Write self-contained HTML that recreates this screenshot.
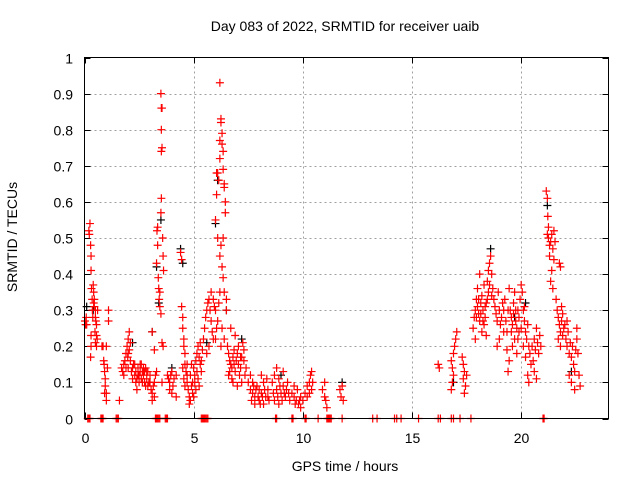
<!DOCTYPE html>
<html><head><meta charset="utf-8"><style>
html,body{margin:0;padding:0;background:#fff;}
svg{display:block;font-family:"Liberation Sans",sans-serif;}
</style></head><body>
<svg id="chart" width="640" height="480" viewBox="0 0 640 480">
<text x="345" y="31" font-size="14" text-anchor="middle">Day 083 of 2022, SRMTID for receiver uaib</text>
<text x="17" y="237" font-size="14" text-anchor="middle" transform="rotate(-90 17 237)">SRMTID / TECUs</text>
<text x="345" y="471" font-size="14" text-anchor="middle">GPS time / hours</text>
<g id="grid"></g>
<g id="ticks"></g>
<g id="black"></g>
<g id="red"></g>
<rect x="84.5" y="57.5" width="524" height="361" fill="none" stroke="#000" stroke-width="1"/>
</svg>
<script>
const xTicks=[0,5,10,15,20];
const yTicks=[0,0.1,0.2,0.3,0.4,0.5,0.6,0.7,0.8,0.9,1];
const yTickLabels=["0","0.1","0.2","0.3","0.4","0.5","0.6","0.7","0.8","0.9","1"];
const xTickLabels=["0","5","10","15","20"];
const redPoints=[
[0.02,0.27],[0.05,0.26],[0.08,0.28],[0.1,0.26],
[0.2,0.52],[0.22,0.51],[0.25,0.54],[0.28,0.48],[0.3,0.45],[0.3,0.41],[0.32,0.36],[0.35,0.33],[0.36,0.3],[0.38,0.28],[0.3,0.23],[0.3,0.2],[0.28,0.17],
[0.4,0.37],[0.42,0.35],[0.45,0.33],[0.45,0.31],[0.5,0.3],[0.5,0.28],[0.52,0.27],[0.55,0.26],[0.48,0.24],[0.55,0.23],[0.58,0.22],[0.6,0.3],[0.42,0.32],[0.5,0.21],[0.55,0.2],
[0.8,0.2],[0.85,0.2],[0.88,0.16],[0.9,0.15],[0.92,0.13],[0.95,0.11],[0.95,0.09],[1.0,0.07],[1.0,0.05],[0.92,0.07],[1.05,0.14],[1.1,0.3],[1.1,0.27],[1.0,0.2],
[1.6,0.05],[1.7,0.14],[1.75,0.13],[1.8,0.15],[1.8,0.12],[1.9,0.18],[1.95,0.2],[2.0,0.22],[2.05,0.24],[1.98,0.17],[2.0,0.14],[2.05,0.19],[2.1,0.21],
[2.1,0.16],[2.2,0.14],[2.25,0.15],[2.3,0.12],[2.35,0.13],[2.4,0.11],[2.45,0.14],[2.5,0.12],[2.55,0.15],[2.6,0.11],[2.65,0.13],[2.7,0.12],[2.75,0.1],[2.8,0.14],[2.85,0.11],[2.9,0.13],[2.95,0.1],[3.0,0.12],[3.05,0.08],[3.1,0.07],[3.1,0.05],[3.2,0.06],[3.2,0.1],[3.25,0.12],[3.3,0.13],[2.4,0.08],[2.6,0.15],[2.9,0.09],[3.1,0.24],[3.2,0.19],[2.2,0.11],[2.5,0.1],[2.8,0.09],
[2.15,0.13],[2.3,0.15],[2.45,0.12],[2.55,0.13],[2.7,0.14],[2.75,0.13],[2.85,0.13],[3.0,0.1],[3.15,0.09],[2.35,0.1],[2.65,0.1],[1.85,0.16],[1.9,0.14],[2.0,0.18],
[3.3,0.43],[3.32,0.52],[3.35,0.53],[3.35,0.48],[3.38,0.39],[3.4,0.36],[3.42,0.33],[3.45,0.35],[3.45,0.31],[3.5,0.29],[3.5,0.57],[3.52,0.61],[3.52,0.74],[3.55,0.75],[3.52,0.8],[3.55,0.86],[3.52,0.86],[3.5,0.9],[3.58,0.5],[3.6,0.45],[3.62,0.41],[3.55,0.21],[3.6,0.2],[3.55,0.1],
[3.8,0.12],[3.85,0.11],[3.9,0.1],[3.95,0.12],[4.0,0.13],[4.05,0.09],[3.9,0.08],[4.0,0.07],[4.1,0.11],[4.2,0.12],[4.2,0.06],
[4.4,0.46],[4.45,0.44],[4.45,0.31],[4.5,0.28],[4.5,0.25],[4.55,0.22],[4.55,0.2],[4.6,0.18],[4.6,0.15],[4.65,0.13],[4.7,0.12],[4.7,0.1],[4.75,0.08],[4.8,0.06],[4.8,0.04],[4.5,0.14],[4.55,0.11],[4.6,0.09],[4.85,0.12],[4.9,0.15],[4.95,0.1],[4.95,0.07],
[5.0,0.14],[5.05,0.12],[5.1,0.16],[5.15,0.18],[5.2,0.2],[5.25,0.17],[5.3,0.21],[5.3,0.15],[5.2,0.11],[5.1,0.08],[5.0,0.06],[5.35,0.13],[5.4,0.19],[5.45,0.22],
[4.9,0.09],[5.05,0.1],[5.15,0.13],[5.25,0.09],[5.35,0.16],[4.7,0.15],[4.85,0.05],
[5.5,0.25],[5.55,0.28],[5.6,0.3],[5.65,0.32],[5.7,0.33],[5.75,0.3],[5.8,0.27],[5.85,0.24],[5.9,0.22],[5.8,0.35],[5.9,0.33],[5.7,0.2],[5.6,0.18],[5.95,0.31],[6.0,0.3],
[6.0,0.55],[6.05,0.62],[6.05,0.68],[6.1,0.68],[6.15,0.66],[6.2,0.72],[6.2,0.77],[6.25,0.82],[6.25,0.83],[6.3,0.79],[6.3,0.76],[6.35,0.74],[6.35,0.69],[6.4,0.65],[6.4,0.64],[6.45,0.6],[6.45,0.57],[6.2,0.93],[6.1,0.5],[6.2,0.45],[6.25,0.48],[6.35,0.5],[6.3,0.42],[6.35,0.39],[6.4,0.35],[6.5,0.33],[6.5,0.3],[6.2,0.35],[6.15,0.32],[6.1,0.27],[6.05,0.25],[6.0,0.22],[6.3,0.25],[6.4,0.22],[6.25,0.2],
[6.55,0.2],[6.6,0.18],[6.65,0.16],[6.7,0.15],[6.75,0.14],[6.8,0.17],[6.85,0.19],[6.9,0.13],[6.95,0.16],[7.0,0.18],[7.05,0.15],[7.1,0.12],[7.15,0.14],[7.2,0.17],[7.25,0.21],[7.3,0.16],[7.35,0.12],[7.4,0.14],[6.6,0.12],[6.8,0.1],[7.0,0.09],[7.2,0.1],[6.7,0.25],[6.9,0.23],
[6.65,0.13],[6.85,0.15],[7.05,0.2],[7.15,0.17],[7.3,0.19],[6.75,0.11],
[7.5,0.1],[7.6,0.08],[7.7,0.07],[7.8,0.06],[7.9,0.09],[8.0,0.05],[8.1,0.07],[8.2,0.1],[8.3,0.06],[8.4,0.08],[7.6,0.12],[7.8,0.04],[8.0,0.08],[8.2,0.04],[8.35,0.11],[7.7,0.1],[8.1,0.12],[8.45,0.05],
[7.65,0.05],[7.85,0.08],[7.95,0.06],[8.05,0.04],[8.15,0.06],[8.25,0.08],[8.4,0.06],[7.75,0.09],
[8.6,0.1],[8.7,0.12],[8.8,0.08],[8.9,0.11],[9.0,0.07],[9.1,0.09],[9.2,0.06],[9.3,0.1],[9.4,0.05],[8.7,0.05],[8.9,0.04],[9.1,0.13],[9.25,0.08],[8.8,0.14],
[8.65,0.07],[8.85,0.06],[8.95,0.09],[9.05,0.05],[9.15,0.07],[9.35,0.07],
[9.5,0.07],[9.6,0.06],[9.7,0.05],[9.8,0.04],[9.9,0.03],[9.75,0.08],[9.6,0.09],[9.9,0.06],[10.0,0.05],[9.85,0.05],[9.65,0.04],
[10.1,0.07],[10.2,0.09],[10.3,0.1],[10.35,0.12],[10.4,0.13],[10.45,0.1],[10.3,0.07],[10.2,0.06],[10.4,0.08],
[10.9,0.08],[11.0,0.06],[11.05,0.05],[11.1,0.03],[11.0,0.1],[11.7,0.08],[11.75,0.06],[11.8,0.09],[11.85,0.05],
[16.2,0.15],[16.25,0.14],[16.8,0.16],[16.85,0.14],[16.9,0.18],[16.95,0.2],[17.0,0.22],[17.05,0.24],[16.9,0.12],[16.85,0.1],[16.8,0.08],
[17.3,0.17],[17.35,0.15],[17.4,0.13],[17.35,0.11],[17.45,0.09],[17.4,0.07],[17.5,0.12],
[17.8,0.25],[17.85,0.28],[17.9,0.3],[17.95,0.33],[18.0,0.36],[18.0,0.31],[18.05,0.29],[18.1,0.27],[18.15,0.32],[18.2,0.34],[18.25,0.3],[18.3,0.26],[18.35,0.28],[18.4,0.32],[18.45,0.38],[18.5,0.41],[18.55,0.43],[18.6,0.45],[18.65,0.4],[18.7,0.36],[18.5,0.35],[18.3,0.37],[18.1,0.4],[17.9,0.22],[18.2,0.24],[18.4,0.23],
[17.95,0.28],[18.05,0.33],[18.15,0.29],[18.25,0.27],[18.35,0.31],[18.45,0.33],[18.55,0.37],[18.65,0.34],
[18.75,0.33],[18.8,0.31],[18.85,0.29],[18.9,0.27],[18.95,0.35],[19.0,0.3],[19.05,0.26],[19.1,0.28],[19.15,0.32],[19.2,0.3],[19.25,0.33],[19.3,0.27],[19.35,0.24],[19.4,0.3],[19.45,0.36],[19.0,0.22],[19.2,0.24],[19.35,0.19],[19.4,0.13],[19.45,0.16],[18.9,0.2],
[19.5,0.3],[19.55,0.28],[19.6,0.26],[19.65,0.32],[19.7,0.35],[19.75,0.3],[19.8,0.25],[19.85,0.22],[19.9,0.28],[19.95,0.33],[19.6,0.2],[19.8,0.18],[19.7,0.22],
[19.55,0.24],[19.75,0.27],[19.85,0.3],[19.65,0.29],[19.9,0.24],
[20.0,0.37],[20.05,0.35],[20.1,0.3],[20.15,0.27],[20.2,0.24],[20.25,0.22],[20.3,0.26],[20.35,0.2],[20.4,0.18],[20.45,0.15],[20.1,0.2],[20.2,0.17],[20.3,0.12],[20.35,0.1],[20.0,0.25],[20.15,0.31],
[20.5,0.2],[20.6,0.22],[20.65,0.19],[20.7,0.25],[20.75,0.21],[20.8,0.18],[20.85,0.23],[20.9,0.2],[20.55,0.16],[20.6,0.13],[20.7,0.11],
[21.15,0.63],[21.2,0.61],[21.22,0.56],[21.2,0.51],[21.25,0.5],[21.3,0.48],[21.35,0.49],[21.4,0.51],[21.45,0.47],[21.5,0.44],[21.3,0.45],[21.4,0.41],[21.35,0.38],[21.45,0.36],[21.25,0.53],[21.5,0.52],[21.55,0.49],
[21.6,0.33],[21.65,0.3],[21.7,0.28],[21.75,0.26],[21.8,0.24],[21.85,0.27],[21.9,0.29],[21.95,0.25],[21.7,0.22],[21.8,0.2],[21.85,0.31],[21.75,0.43],[21.8,0.42],[21.9,0.23],[22.0,0.26],
[22.05,0.22],[22.1,0.2],[22.15,0.24],[22.2,0.18],[22.25,0.21],[22.3,0.17],[22.35,0.2],[22.4,0.15],[22.45,0.13],[22.5,0.19],[22.55,0.22],[22.6,0.18],[22.65,0.12],[22.7,0.09],[22.2,0.12],[22.3,0.1],[22.45,0.08],[22.55,0.25],[22.1,0.27],
[0.15,0],[0.2,0],[0.25,0],[0.75,0],[0.8,0],[0.85,0],[1.45,0],[1.5,0],[1.55,0],[3.25,0],[3.3,0],[3.35,0],[3.4,0],[3.45,0],[3.7,0],[3.75,0],[3.8,0],[5.35,0],[5.4,0],[5.45,0],[5.5,0],[5.55,0],[5.6,0],[5.65,0],[8.75,0],[8.8,0],[9.5,0],[9.55,0],[10.1,0],[10.15,0],[10.7,0],[11.1,0],[11.15,0],[11.2,0],[11.25,0],[11.3,0],[11.8,0],[13.2,0],[13.4,0],[14.2,0],[14.3,0],[14.5,0],[15.3,0],[16.2,0],[16.3,0],[16.8,0],[16.9,0],[17.2,0],[17.7,0],[21.0,0],[21.05,0]
];
const blackPoints=[
[0.1,0.31],[0.4,0.3],[3.1,0.24],[3.3,0.42],[3.5,0.55],[3.4,0.32],[4.4,0.47],[4.5,0.43],[4.0,0.14],[6.0,0.54],[6.1,0.66],[6.5,0.3],[9.0,0.12],[11.8,0.1],[16.9,0.1],[18.6,0.47],[19.7,0.28],[20.2,0.32],[21.2,0.59],[22.3,0.13],[2.2,0.21],[5.6,0.21],[7.2,0.22]
];
const NS="http://www.w3.org/2000/svg";
const X0=84.5,X1=608.5,Y0=418.5,Y1=57.5,XMAX=24;
function xs(v){return X0+(X1-X0)*v/XMAX;}
function ys(v){return Y0-(Y0-Y1)*v;}
const grid=document.getElementById('grid'),ticks=document.getElementById('ticks');
function line(g,x1,y1,x2,y2,st,dash){const l=document.createElementNS(NS,'line');l.setAttribute('x1',x1);l.setAttribute('y1',y1);l.setAttribute('x2',x2);l.setAttribute('y2',y2);l.setAttribute('stroke',st);if(dash)l.setAttribute('stroke-dasharray',dash);g.appendChild(l);return l;}
function txt(g,x,y,s,anchor){const t=document.createElementNS(NS,'text');t.setAttribute('x',x);t.setAttribute('y',y);t.setAttribute('font-size','14');t.setAttribute('text-anchor',anchor);t.textContent=s;g.appendChild(t);return t;}
yTicks.forEach((v,i)=>{const y=Math.round(ys(v))+0.5;
 if(v>0&&v<1){const gl=line(grid,X0,y,X1,y,'#a0a0a0','2,3');
 
 }
 line(ticks,X0,y,X0+6,y,'#000');line(ticks,X1,y,X1-6,y,'#000');
 const t=txt(ticks,73,y+5,yTickLabels[i],'end');
 
 
});
xTicks.forEach((v,i)=>{const x=Math.round(xs(v))+0.5;
 if(v>0){const gl=line(grid,x,Y0,x,Y1,'#a0a0a0','2,3');
 
 }
 line(ticks,x,Y0,x,Y0-6,'#000');line(ticks,x,Y1,x,Y1+6,'#000');
 const t=txt(ticks,x,443,xTickLabels[i],'middle');
 
 
});
function plus(g,p,col,name){const x=xs(p[0]),y=ys(p[1]);
 const pa=document.createElementNS(NS,'path');
 pa.setAttribute('d','M'+(x-4)+' '+y+'H'+(x+4)+'M'+x+' '+(y-4)+'V'+(y+4));
 pa.setAttribute('stroke',col);pa.setAttribute('stroke-width','1.2');
 
 
 g.appendChild(pa);}
blackPoints.forEach(p=>plus(document.getElementById('black'),p,'#000','black-point'));
redPoints.forEach(p=>plus(document.getElementById('red'),p,'#ff0000','red-point'));
</script>
</body></html>
